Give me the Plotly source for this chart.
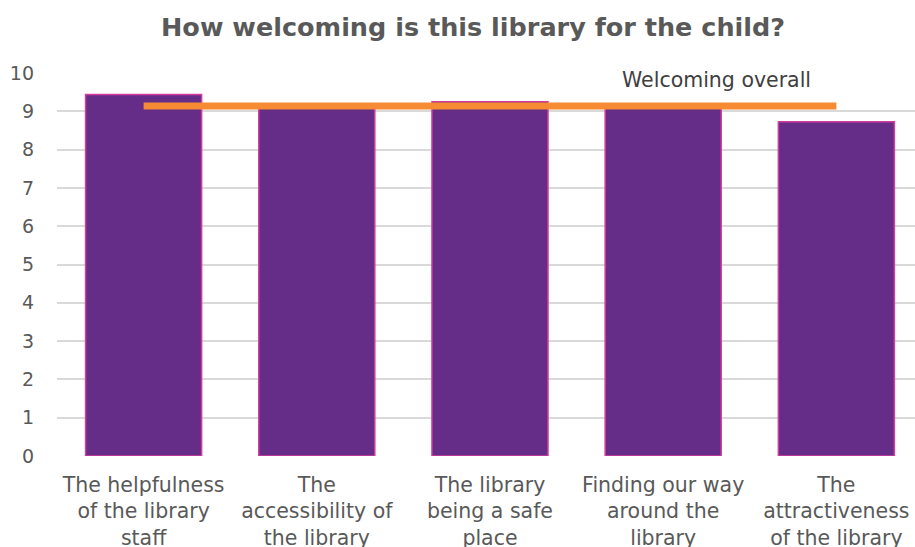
import plotly.graph_objects as go

categories = [
    "The helpfulness<br>of the library<br>staff",
    "The<br>accessibility of<br>the library",
    "The library<br>being a safe<br>place",
    "Finding our way<br>around the<br>library",
    "The<br>attractiveness<br>of the library",
]
scores = [9.44, 9.10, 9.25, 9.10, 8.73]
overall = [9.14, 9.14, 9.14, 9.14, 9.14]
y_ticks = list(range(0, 11))

text_color = "#595959"
font_family = "DejaVu Sans, Verdana, sans-serif"

fig = go.Figure()
fig.add_trace(go.Bar(
    x=categories, y=scores,
    width=0.67,
    marker=dict(color="#652C88", line=dict(color="#D23C9C", width=1.5)),
    showlegend=False,
))
fig.add_trace(go.Scatter(
    x=categories, y=overall,
    mode="lines",
    line=dict(color="#F68B33", width=7),
    showlegend=False,
))
fig.add_annotation(
    x=3.31, y=overall[3], xref="x", yref="y",
    text="Welcoming overall", showarrow=False,
    yanchor="bottom", yshift=12,
    font=dict(family=font_family, size=20.5, color="#404040"),
)

fig.update_layout(
    width=915, height=547,
    margin=dict(l=57, r=0, t=73, b=91, autoexpand=False),
    paper_bgcolor="white", plot_bgcolor="white",
    title=dict(
        text="<b>How welcoming is this library for the child?</b>",
        x=0.517, xanchor="center", y=0.95, yanchor="middle",
        font=dict(family=font_family, size=25.5, color=text_color),
    ),
    font=dict(family=font_family, size=20, color=text_color),
    xaxis=dict(range=[-0.5, 4.454], showgrid=False, ticks="", showline=False,
               ticklabelstandoff=14, automargin=False,
               tickfont=dict(size=20.5, color=text_color)),
    yaxis=dict(range=[0, 10], tickvals=y_ticks, showgrid=True,
               gridcolor="#D9D9D9", gridwidth=1.5, zeroline=False,
               ticks="", ticklabelstandoff=22, automargin=False,
               tickfont=dict(size=19, color=text_color)),
    bargap=0.33,
)

fig.write_html("out.html")
